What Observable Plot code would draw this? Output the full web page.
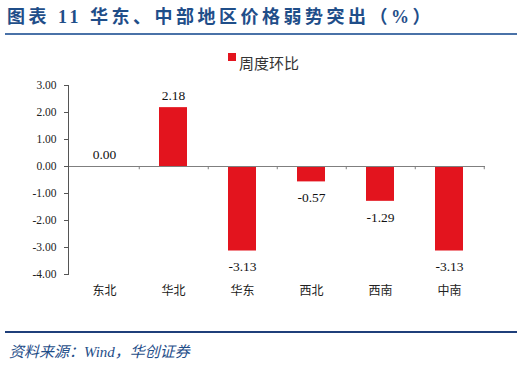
<!DOCTYPE html>
<html>
<head>
<meta charset="utf-8">
<script src="https://cdn.jsdelivr.net/npm/d3@7"></script>
<script src="https://cdn.jsdelivr.net/npm/@observablehq/plot@0.6"></script>
<style>
  html, body { margin: 0; padding: 0; background: #fff; }
  #wrap { position: relative; width: 525px; height: 366px; overflow: hidden; }
  #title { position: absolute; left: 7px; top: 5px; font-family: "Liberation Serif", "Noto Sans CJK SC", serif; font-weight: bold; font-size: 18px; color: #1f4e89; letter-spacing: 3.5px; white-space: nowrap; line-height: 24px; }
  #line1 { position: absolute; left: 5px; top: 33px; width: 512px; height: 2px; background: #4a72a8; }
  #line2 { position: absolute; left: 5px; top: 331px; width: 512px; height: 1.5px; background: #1f3f7a; }
  #source { position: absolute; left: 9px; top: 342px; font-family: "Liberation Serif", "Noto Sans CJK SC", serif; font-style: italic; font-size: 15px; color: #1f4e89; white-space: nowrap; line-height: 20px; }
  #legend { position: absolute; left: 228px; top: 53px; font-family: "Noto Sans CJK SC", sans-serif; font-size: 15px; color: #333; white-space: nowrap; line-height: 20px; }
  #legend .sw { display: inline-block; width: 8px; height: 8px; background: #e3141e; vertical-align: top; margin-top: 0px; margin-right: 3px; }
  #chart { position: absolute; left: 0; top: 0; }
</style>
</head>
<body>
<div id="wrap">
  <div id="chart"></div>
  <div id="title">图表 11 华东、中部地区价格弱势突出（%）</div>
  <div id="line1"></div>
  <div id="legend"><span class="sw"></span>周度环比</div>
  <div id="line2"></div>
  <div id="source">资料来源：Wind，华创证券</div>
</div>
<script>
const categories = ["东北", "华北", "华东", "西北", "西南", "中南"];
const values = [0.00, 2.18, -3.13, -0.57, -1.29, -3.13];
const yTicks = [-4, -3, -2, -1, 0, 1, 2, 3];
const seriesName = "周度环比";

const data = categories.map((c, i) => ({region: c, value: values[i]}));
const pos = data.filter(d => d.value >= 0);
const neg = data.filter(d => d.value < 0);

const W = 525, H = 366;
const mL = 68, mR = 40, mT = 85, mB = 92;
const step = (W - mL - mR) / categories.length;
const red = "#e3141e";
const labelStyle = {x: "region", y: "value", text: d => d.value.toFixed(2),
  fontSize: 13.5, fontFamily: "Liberation Serif, serif", fill: "#111", lineAnchor: "middle"};

const chart = Plot.plot({
  width: W,
  height: H,
  marginLeft: mL,
  marginRight: mR,
  marginTop: mT,
  marginBottom: mB,
  style: {background: "transparent", overflow: "visible"},
  x: {domain: categories, paddingInner: 0.59, paddingOuter: 0.295, label: null},
  y: {domain: [-4, 3], label: null},
  marks: [
    Plot.barY(data, {x: "region", y: "value", fill: red}),
    Plot.ruleY([0], {stroke: "#7f7f7f", strokeWidth: 1}),
    Plot.ruleX(categories, {x: d => d, y1: 0, y2: -0.12, dx: step / 2, stroke: "#7f7f7f"}),
    Plot.frame({anchor: "left", stroke: "#555"}),
    Plot.axisY({ticks: yTicks, tickFormat: d => d.toFixed(2), tickSize: 4, tickPadding: 8,
      fontSize: 11.5, fontFamily: "Liberation Serif, serif", fill: "#222", stroke: "#555", label: null}),
    Plot.axisX({tickSize: 0, tickPadding: 12, fontSize: 12, fontFamily: "Noto Sans CJK SC, sans-serif", fill: "#222", label: null}),
    Plot.text(pos, {...labelStyle, dy: -12}),
    Plot.text(neg, {...labelStyle, dy: 16})
  ]
});

document.getElementById("chart").appendChild(chart);
</script>
</body>
</html>
